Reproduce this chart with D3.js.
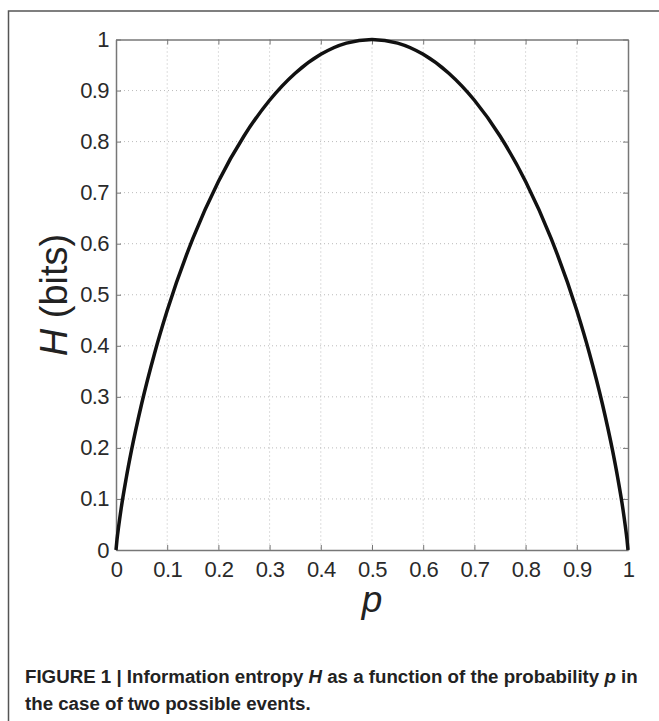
<!DOCTYPE html>
<html>
<head>
<meta charset="utf-8">
<script src="https://cdn.jsdelivr.net/npm/d3@7"></script>
<style>
  body { margin: 0; background: #fff; }
  svg { display: block; font-family: "Liberation Sans", Arial, sans-serif; }
</style>
</head>
<body>
<svg width="659" height="721"></svg>
<script>
// values
var pValues = [0, 0.002, 0.005, 0.01, 0.02, 0.03, 0.05, 0.075, 0.1, 0.15, 0.2, 0.25, 0.3, 0.35, 0.4, 0.45, 0.5,
               0.55, 0.6, 0.65, 0.7, 0.75, 0.8, 0.85, 0.9, 0.925, 0.95, 0.97, 0.98, 0.99, 0.995, 0.998, 1];
var hValues = [0, 0.021, 0.045, 0.081, 0.141, 0.194, 0.286, 0.384, 0.469, 0.610, 0.722, 0.811, 0.881, 0.934, 0.971, 0.993, 1.0,
               0.993, 0.971, 0.934, 0.881, 0.811, 0.722, 0.610, 0.469, 0.384, 0.286, 0.194, 0.141, 0.081, 0.045, 0.021, 0];
var xTicks = [0, 0.1, 0.2, 0.3, 0.4, 0.5, 0.6, 0.7, 0.8, 0.9, 1];
var yTicks = [0, 0.1, 0.2, 0.3, 0.4, 0.5, 0.6, 0.7, 0.8, 0.9, 1];

var margin = {top: 39.5, right: 31, bottom: 171, left: 116},
    width = 659 - margin.left - margin.right,
    height = 721 - margin.top - margin.bottom;

var svg = d3.select("svg");

// outer frame (runs off the right and bottom of the picture)
svg.append("rect")
    .attr("x", 8.5).attr("y", 11)
    .attr("width", 700).attr("height", 800)
    .style("fill", "none")
    .style("stroke", "#555")
    .style("stroke-width", 1.5);

var g = svg.append("g")
    .attr("transform", "translate(" + margin.left + "," + margin.top + ")");

var x = d3.scaleLinear().domain([0, 1]).range([0, width]);
var y = d3.scaleLinear().domain([0, 1]).range([height, 0]);

// dotted grid
g.selectAll(".gx").data(xTicks.slice(1, -1)).enter().append("line")
    .attr("x1", d => x(d)).attr("x2", d => x(d))
    .attr("y1", 0).attr("y2", height)
    .style("stroke", "#bbb").style("stroke-width", 1)
    .style("stroke-dasharray", "1,3");
g.selectAll(".gy").data(yTicks.slice(1, -1)).enter().append("line")
    .attr("y1", d => y(d)).attr("y2", d => y(d))
    .attr("x1", 0).attr("x2", width)
    .style("stroke", "#bbb").style("stroke-width", 1)
    .style("stroke-dasharray", "1,3");

// axes, ticks pointing inward, box on all sides
var fmt = d => d === 0 || d === 1 ? String(d) : d3.format(".1f")(d);

var xAxis = g.append("g")
    .attr("transform", "translate(0," + height + ")")
    .call(d3.axisBottom(x).tickValues(xTicks).tickFormat(fmt).tickSizeInner(-5).tickSizeOuter(0).tickPadding(11));
var yAxis = g.append("g")
    .call(d3.axisLeft(y).tickValues(yTicks).tickFormat(fmt).tickSizeInner(-5).tickSizeOuter(0).tickPadding(7));
g.append("g")
    .call(d3.axisTop(x).tickValues(xTicks).tickFormat("").tickSizeInner(-5).tickSizeOuter(0));
g.append("g")
    .attr("transform", "translate(" + width + ",0)")
    .call(d3.axisRight(y).tickValues(yTicks).tickFormat("").tickSizeInner(-5).tickSizeOuter(0));

g.selectAll(".domain").style("stroke", "#777").style("stroke-width", 1.5);
g.selectAll(".tick line").style("stroke", "#777");
g.selectAll(".tick text")
    .style("font-size", "22px")
    .style("letter-spacing", "-0.6px")
    .style("fill", "#2a2a2a")
    .style("font-family", "'Liberation Sans', Arial, sans-serif");
xAxis.selectAll(".tick text").attr("dy", "0.71em");

// the curve
var data = pValues.map((p, i) => [p, hValues[i]]);
g.append("path")
    .datum(data)
    .attr("d", d3.line().x(d => x(d[0])).y(d => y(d[1])).curve(d3.curveMonotoneX))
    .style("fill", "none")
    .style("stroke", "#111")
    .style("stroke-width", 3.5);

// axis labels
var yl = svg.append("text")
    .attr("transform", "translate(67,295) rotate(-90)")
    .attr("text-anchor", "middle")
    .style("font-size", "38px")
    .style("fill", "#222");
yl.append("tspan").style("font-style", "italic").text("H");
yl.append("tspan").text(" (bits)");

svg.append("text")
    .attr("x", margin.left + x(0.5)).attr("y", 612)
    .attr("text-anchor", "middle")
    .style("font-size", "37px")
    .style("font-style", "italic")
    .style("fill", "#222")
    .text("p");

// caption
var cap = svg.append("g")
    .style("font-size", "18.7px")
    .style("font-weight", "bold")
    .style("fill", "#222");
var l1 = cap.append("text").attr("x", 25).attr("y", 683);
l1.append("tspan").text("FIGURE 1 | Information entropy ");
l1.append("tspan").style("font-style", "italic").text("H");
l1.append("tspan").text(" as a function of the probability ");
l1.append("tspan").style("font-style", "italic").text("p");
l1.append("tspan").text(" in");
cap.append("text").attr("x", 25).attr("y", 710)
    .text("the case of two possible events.");
</script>
</body>
</html>
